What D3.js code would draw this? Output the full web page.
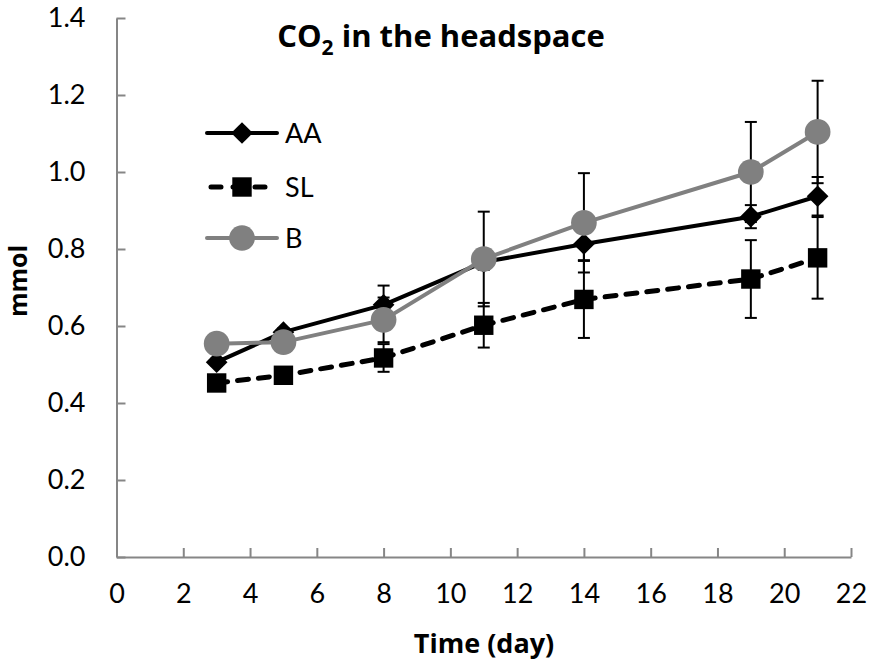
<!DOCTYPE html>
<html>
<head>
<meta charset="utf-8">
<script src="https://cdn.jsdelivr.net/npm/d3@7"></script>
<style>
  body { margin: 0; background: #fff; }
  svg { font-family: Lato, "Open Sans", sans-serif; }
</style>
</head>
<body>
<svg id="chart" width="872" height="666"></svg>
<script>
// data
const days = [3, 5, 8, 11, 14, 19, 21];
const aa = [0.506, 0.584, 0.655, 0.766, 0.813, 0.884, 0.937];
const aaErr = [0.01, 0.01, 0.05, 0.02, 0.042, 0.03, 0.05];
const sl = [0.452, 0.472, 0.517, 0.602, 0.669, 0.722, 0.777];
const slErr = [0.01, 0.01, 0.036, 0.058, 0.1, 0.101, 0.106];
const b = [0.554, 0.558, 0.616, 0.774, 0.868, 1.0, 1.104];
const bErr = [0.01, 0.01, 0.058, 0.123, 0.129, 0.13, 0.133];
const xTicks = [0, 2, 4, 6, 8, 10, 12, 14, 16, 18, 20, 22];
const yTicks = [0, 0.2, 0.4, 0.6, 0.8, 1.0, 1.2, 1.4];

const series = [
  { name: 'AA', values: aa, err: aaErr, color: '#000', dash: null, width: 4, symbol: d3.symbolDiamond2, size: 300 },
  { name: 'SL', values: sl, err: slErr, color: '#000', dash: '11,10', width: 5, symbol: d3.symbolSquare2, size: 480 },
  { name: 'B', values: b, err: bErr, color: '#808080', dash: null, width: 4, symbol: d3.symbolCircle, size: 520 }
];

const margin = { top: 18, right: 21, bottom: 109, left: 116.5 };
const width = 872;
const height = 666;
const innerWidth = width - margin.left - margin.right;
const innerHeight = height - margin.top - margin.bottom;

const svg = d3.select('#chart');
const g = svg.append('g')
  .attr('transform', `translate(${margin.left}, ${margin.top})`);

const xScale = d3.scaleLinear().domain([0, 22]).range([0, innerWidth]);
const yScale = d3.scaleLinear().domain([0, 1.4]).range([innerHeight, 0]);

const axisColor = '#868686';

const xAxis = g.append('g')
  .attr('transform', `translate(0, ${innerHeight})`)
  .call(d3.axisBottom(xScale)
    .tickValues(xTicks)
    .tickSizeInner(-9)
    .tickSizeOuter(0)
    .tickPadding(27)
    .tickFormat(d3.format('d')));

const yAxis = g.append('g')
  .call(d3.axisLeft(yScale)
    .tickValues(yTicks)
    .tickSizeInner(-9)
    .tickSizeOuter(0)
    .tickPadding(31)
    .tickFormat(d3.format('.1f')));

[xAxis, yAxis].forEach(ax => {
  ax.select('.domain').attr('stroke', axisColor).attr('stroke-width', 2);
  ax.selectAll('.tick line').attr('stroke', axisColor).attr('stroke-width', 2);
  ax.selectAll('.tick text')
    .attr('fill', '#000')
    .style('font-size', '27px')
    .style('font-family', 'Lato, "Open Sans", sans-serif');
});

const line = d3.line()
  .x(d => xScale(d.x))
  .y(d => yScale(d.y));

series.forEach(s => {
  const pts = days.map((x, i) => ({ x: x, y: s.values[i], e: s.err[i] }));
  const sg = g.append('g').attr('class', 'series');

  // error bars
  const eb = sg.selectAll('.err').data(pts).enter().append('g').attr('class', 'err')
    .attr('stroke', '#000').attr('stroke-width', 2);
  eb.append('line')
    .attr('x1', d => xScale(d.x)).attr('x2', d => xScale(d.x))
    .attr('y1', d => yScale(d.y - d.e)).attr('y2', d => yScale(d.y + d.e));
  eb.append('line')
    .attr('x1', d => xScale(d.x) - 6).attr('x2', d => xScale(d.x) + 6)
    .attr('y1', d => yScale(d.y + d.e)).attr('y2', d => yScale(d.y + d.e));
  eb.append('line')
    .attr('x1', d => xScale(d.x) - 6).attr('x2', d => xScale(d.x) + 6)
    .attr('y1', d => yScale(d.y - d.e)).attr('y2', d => yScale(d.y - d.e));

  sg.append('path')
    .datum(pts)
    .attr('fill', 'none')
    .attr('stroke', s.color)
    .attr('stroke-width', s.width)
    .attr('stroke-linecap', 'round')
    .attr('stroke-linejoin', 'round')
    .attr('stroke-dasharray', s.dash)
    .attr('d', line);

  sg.selectAll('.mark').data(pts).enter().append('path')
    .attr('class', 'mark')
    .attr('transform', d => `translate(${xScale(d.x)}, ${yScale(d.y)})`)
    .attr('d', d3.symbol().type(s.symbol).size(s.size))
    .attr('fill', s.color);
});

// legend
const legend = svg.append('g').attr('transform', 'translate(207, 133)');
series.forEach((s, i) => {
  const row = legend.append('g').attr('transform', `translate(0, ${[0, 54, 105][i]})`);
  row.append('line')
    .attr('x1', 0).attr('x2', 70).attr('y1', 0).attr('y2', 0)
    .attr('stroke', s.color)
    .attr('stroke-width', s.width)
    .attr('stroke-linecap', 'round')
    .attr('stroke-dasharray', s.dash ? '10,12' : null)
    .attr('stroke-dashoffset', s.dash ? -4 : null);
  row.append('path')
    .attr('transform', 'translate(35, 0)')
    .attr('d', d3.symbol().type(s.symbol).size(s.size))
    .attr('fill', s.color);
  row.append('text')
    .attr('x', 78).attr('y', 10)
    .style('font-size', '27px')
    .text(s.name);
});

// title
const title = svg.append('text')
  .attr('x', 441).attr('y', 47)
  .attr('text-anchor', 'middle')
  .style('font-family', '"Open Sans", sans-serif')
  .style('font-size', '31px')
  .style('font-weight', 'bold');
title.append('tspan').text('CO');
title.append('tspan').attr('dy', 8).style('font-size', '21px').text('2');
title.append('tspan').attr('dy', -8).text(' in the headspace');

// axis titles
svg.append('text')
  .attr('x', 484).attr('y', 653)
  .attr('text-anchor', 'middle')
  .style('font-family', '"Open Sans", sans-serif')
  .style('font-size', '27px')
  .style('font-weight', 'bold')
  .text('Time (day)');

svg.append('text')
  .attr('transform', 'translate(27, 281) rotate(-90)')
  .attr('text-anchor', 'middle')
  .style('font-family', '"Open Sans", sans-serif')
  .style('font-size', '25px')
  .style('font-weight', 'bold')
  .text('mmol');
</script>
</body>
</html>
